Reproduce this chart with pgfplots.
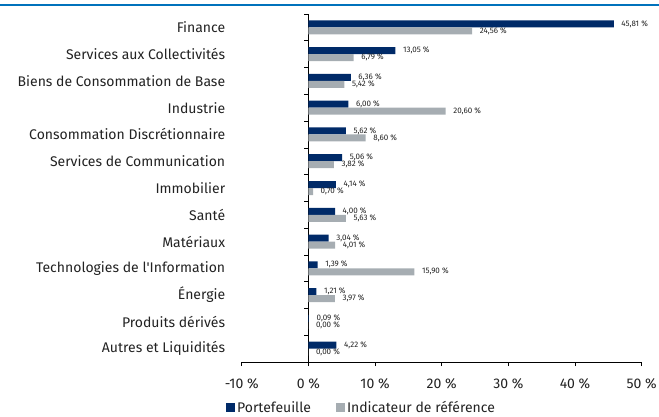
\documentclass[border=0pt]{standalone}
\usepackage{pgfplots}
\pgfplotsset{compat=1.18}
\usepackage{fontspec}
\setmainfont{Fira Sans}
\definecolor{navy}{RGB}{0,42,104}
\definecolor{refgray}{RGB}{166,173,178}
\definecolor{topblue}{RGB}{0,114,188}
\definecolor{txt}{RGB}{34,34,34}
\pgfplotstableread[col sep=comma]{
idx,port,ref
0,45.81,24.56
1,13.05,6.79
2,6.36,5.42
3,6.00,20.60
4,5.62,8.60
5,5.06,3.82
6,4.14,0.70
7,4.00,5.63
8,3.04,4.01
9,1.39,15.90
10,1.21,3.97
11,0.09,0.00
12,4.22,0.00
}\datatable
\begin{document}
\begin{tikzpicture}
\path[use as bounding box] (-241.7pt,-54pt) rectangle (417.3pt,362pt);
\begin{axis}[
  scale only axis,
  width=400pt, height=348pt,
  at={(0pt,0pt)}, anchor=south west,
  xmin=-10, xmax=50,
  ymin=-0.5, ymax=12.5,
  y dir=reverse,
  xbar,
  bar width=7pt,
  axis x line*=bottom,
  axis y line*=middle,
  axis line style={black, line width=0.6pt},
  xtick={-10,0,10,20,30,40,50},
  xticklabels={-10~\%,0~\%,10~\%,20~\%,30~\%,40~\%,50~\%},
  xtick align=outside,
  ytick align=outside,
  major tick length=4pt,
  minor tick length=4pt,
  tick style={black, line width=0.6pt},
  ytick={0,...,12},
  minor ytick={-0.5,0.5,...,12.5},
  major y tick style={draw=none},
  minor y tick style={draw=black, line width=0.6pt},
  yticklabels={Finance,Services aux Collectivités,Biens de Consommation de Base,Industrie,Consommation Discrétionnaire,Services de Communication,Immobilier,Santé,Matériaux,Technologies de l\textquotesingle Information,Énergie,Produits dérivés,Autres et Liquidités},
  yticklabel style={font=\fontsize{14}{16}\selectfont, text=txt, anchor=east, inner sep=0pt, xshift=-79pt},
  xticklabel style={font=\fontsize{14}{16}\selectfont, text=txt, yshift=-9pt},
  point meta=x,
  nodes near coords={\pgfmathprintnumber[fixed, fixed zerofill, precision=2, use comma, assume math mode=true]{\pgfplotspointmeta}~\%},
  every node near coord/.append style={font=\fontsize{8}{9}\selectfont, text=txt, anchor=west, inner sep=0pt, xshift=7.5pt},
  legend image code/.code={\fill[#1] (0pt,-4.5pt) rectangle (9pt,4.5pt);},
  legend columns=2,
  legend style={at={(rel axis cs:0,0)}, anchor=west, xshift=-15.7pt, yshift=-45.5pt, draw=none, fill=none, inner sep=0pt, font=\fontsize{14}{16}\selectfont, text=txt,
    /tikz/every even column/.append style={column sep=23pt}},
]
\addplot[fill=navy, draw=none, bar shift=3.5pt] table[x=port, y=idx] {\datatable};
\addplot[fill=refgray, draw=none, bar shift=-3.5pt] table[x=ref, y=idx] {\datatable};
\legend{Portefeuille, Indicateur de référence}
\end{axis}
\draw[topblue, line width=1.5pt] (-241.7pt,357pt) -- (417.3pt,357pt);
\end{tikzpicture}
\end{document}
